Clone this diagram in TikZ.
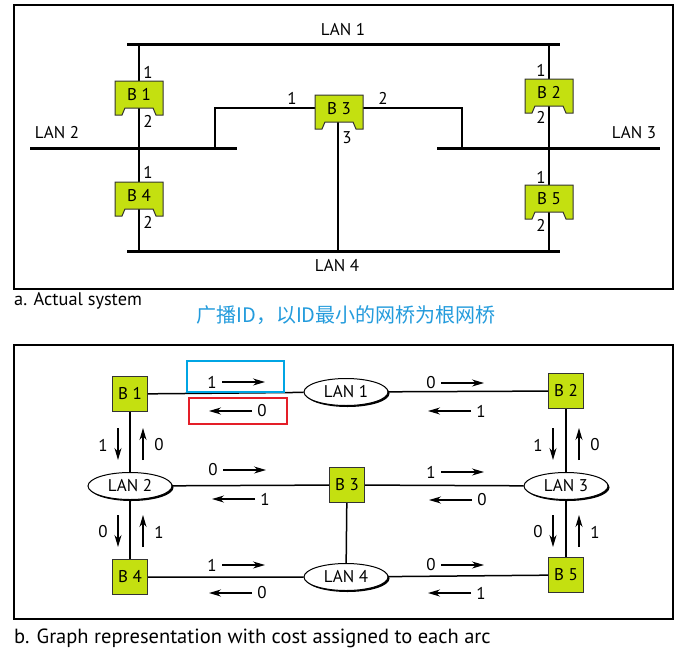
\documentclass[tikz,border=0pt]{standalone}
\usepackage{fontspec}
\setmainfont{PT Sans}
\newfontfamily\cjk{Noto Sans CJK SC}
\usetikzlibrary{arrows.meta,shapes.geometric,shadows}
\definecolor{bgreen}{RGB}{196,224,16}
\definecolor{cnblue}{RGB}{35,155,220}
\definecolor{boxblue}{RGB}{0,165,228}
\definecolor{boxred}{RGB}{228,30,40}
\tikzset{
  frame/.style={draw, line width=1.5},
  lanline/.style={line width=3},
  link/.style={line width=1.5},
  bridgebody/.style={draw=black!80, fill=bgreen, line width=1},
  bridgetext/.style={inner sep=0},
  bbox/.style={draw=black!80, fill=bgreen, line width=1, minimum size=35, inner sep=0},
  lanell/.style={ellipse, draw, fill=white, line width=1, minimum width=84, minimum height=27, inner sep=0,
     drop shadow={shadow xshift=1.5pt, shadow yshift=-1.5pt, fill=black, opacity=1}},
  costlab/.style={inner sep=0},
  portlab/.style={inner sep=0},
  costarr/.style={-{Stealth[length=12pt,width=7pt]}, line width=1.2},
  hlbox/.style={line width=2.5, inner sep=0}
}
\newcommand\drawbridge[4]{%
  \draw[bridgebody] (#2-24,#3-17) -- (#2+24,#3-17) -- (#2+24,#3+17) -- (#2+17,#3+17) -- (#2+14,#3+10)
     -- (#2-14,#3+10) -- (#2-17,#3+17) -- (#2-24,#3+17) -- cycle;
  \node[bridgetext] (#1) at (#2,#3-3) {#4};}
\newcommand\rcost[4]{\node[costlab] (#1) at (#2,#3) {#4};
  \draw[costarr] ([xshift=10pt]#1.center) -- ([xshift=53pt]#1.center);}
\newcommand\lcost[4]{\node[costlab] (#1) at (#2,#3) {#4};
  \draw[costarr] ([xshift=-10pt]#1.center) -- ([xshift=-53pt]#1.center);}
\newcommand\dcost[4]{\node[costlab] (#1) at (#2,#3) {#4};
  \draw[costarr] ([xshift=15pt,yshift=17pt]#1.center) -- ([xshift=15pt,yshift=-15pt]#1.center);}
\newcommand\ucost[4]{\node[costlab] (#1) at (#2,#3) {#4};
  \draw[costarr] ([xshift=-16pt,yshift=-15pt]#1.center) -- ([xshift=-16pt,yshift=17pt]#1.center);}
\begin{document}
\begin{tikzpicture}[x=1pt,y=-1pt,font=\fontsize{17}{19}\selectfont]
\useasboundingbox (0,0) rectangle (696,651);
% frames
\draw[frame] (14,5) rectangle (673,289);
\draw[frame] (14,345) rectangle (673,619);
% ---------- a. actual system ----------
\coordinate (l1a) at (127,44);  \coordinate (l1b) at (560,44);
\coordinate (l2a) at (30,148);  \coordinate (l2b) at (237,148);
\coordinate (l3a) at (437,148); \coordinate (l3b) at (660,148);
\coordinate (l4a) at (127,251); \coordinate (l4b) at (560,251);
\draw[lanline] (l1a) -- (l1b);
\draw[lanline] (l2a) -- (l2b);
\draw[lanline] (l3a) -- (l3b);
\draw[lanline] (l4a) -- (l4b);
\node (lan1t) at (343,30) {LAN 1};
\node (lan2t) at (57,133) {LAN 2};
\node (lan3t) at (634,133) {LAN 3};
\node (lan4t) at (337,266) {LAN 4};
\draw[link] (139,44) -- (139,251);
\draw[link] (549,44) -- (549,251);
\draw[link] (215,148) -- (215,108) -- (462,108) -- (462,148);
\draw[link] (338,108) -- (338,251);
\drawbridge{tb1}{139}{98}{B 1}
\drawbridge{tb4}{139}{199}{B 4}
\drawbridge{tb2}{549}{96}{B 2}
\drawbridge{tb5}{549}{202}{B 5}
\drawbridge{tb3}{339}{112}{B 3}
\node[portlab] (p11) at (148,72) {1};
\node[portlab] (p12) at (148,121) {2};
\node[portlab] (p41) at (148,172) {1};
\node[portlab] (p42) at (148,222) {2};
\node[portlab] (p21) at (541,70) {1};
\node[portlab] (p22) at (541,117) {2};
\node[portlab] (p51) at (541,177) {1};
\node[portlab] (p52) at (541,225) {2};
\node[portlab] (p31) at (292,98) {1};
\node[portlab] (p32) at (383,98) {2};
\node[portlab] (p33) at (347,138) {3};
\node[anchor=west,inner sep=0,font=\fontsize{18.3}{20}\selectfont] (capa) at (14,301) {a. Actual system};
\node[text=cnblue,font=\cjk\fontsize{20}{22}\selectfont] (note) at (346,315) {广播ID，以ID最小的网桥为根网桥};
% ---------- b. graph ----------
\node[bbox] (B1) at (130,394) {B 1};
\node[lanell] (L1) at (346,392) {LAN 1};
\node[bbox] (B2) at (566,391) {B 2};
\node[lanell] (L2) at (130,486) {LAN 2};
\node[bbox] (B3) at (347,485) {B 3};
\node[lanell] (L3) at (566,486) {LAN 3};
\node[bbox] (B4) at (130,577) {B 4};
\node[lanell] (L4) at (346,577) {LAN 4};
\node[bbox] (B5) at (566,575) {B 5};
\draw[link] (B1) -- (L1) -- (B2);
\draw[link] (B1) -- (L2) -- (B4);
\draw[link] (L2) -- (B3) -- (L3);
\draw[link] (B2) -- (L3) -- (B5);
\draw[link] (B4) -- (L4) -- (B5);
\draw[link] (B3) -- (L4);
\rcost{c1}{212}{382}{1}
\lcost{c2}{262}{411}{0}
\rcost{c3}{431}{383}{0}
\lcost{c4}{481}{411}{1}
\rcost{c5}{213}{470}{0}
\lcost{c6}{265}{499}{1}
\rcost{c7}{431}{472}{1}
\lcost{c8}{482}{500}{0}
\rcost{c9}{212}{565}{1}
\lcost{c10}{262}{593}{0}
\rcost{c11}{431}{565}{0}
\lcost{c12}{481}{593}{1}
\dcost{v1}{103}{445}{1}
\ucost{v2}{159}{445}{0}
\dcost{v3}{103}{532}{0}
\ucost{v4}{159}{532}{1}
\dcost{v5}{538}{445}{1}
\ucost{v6}{595}{445}{0}
\dcost{v7}{538}{532}{0}
\ucost{v8}{595}{532}{1}
\node[hlbox,draw=boxblue,minimum width=97,minimum height=31] (hlblue) at (235.5,376.5) {};
\node[hlbox,draw=boxred,minimum width=98,minimum height=26] (hlred) at (238,411) {};
\node[anchor=west,inner sep=0,font=\fontsize{20.5}{22}\selectfont] (capb) at (14,638) {b. Graph representation with cost assigned to each arc};
\end{tikzpicture}
\end{document}
